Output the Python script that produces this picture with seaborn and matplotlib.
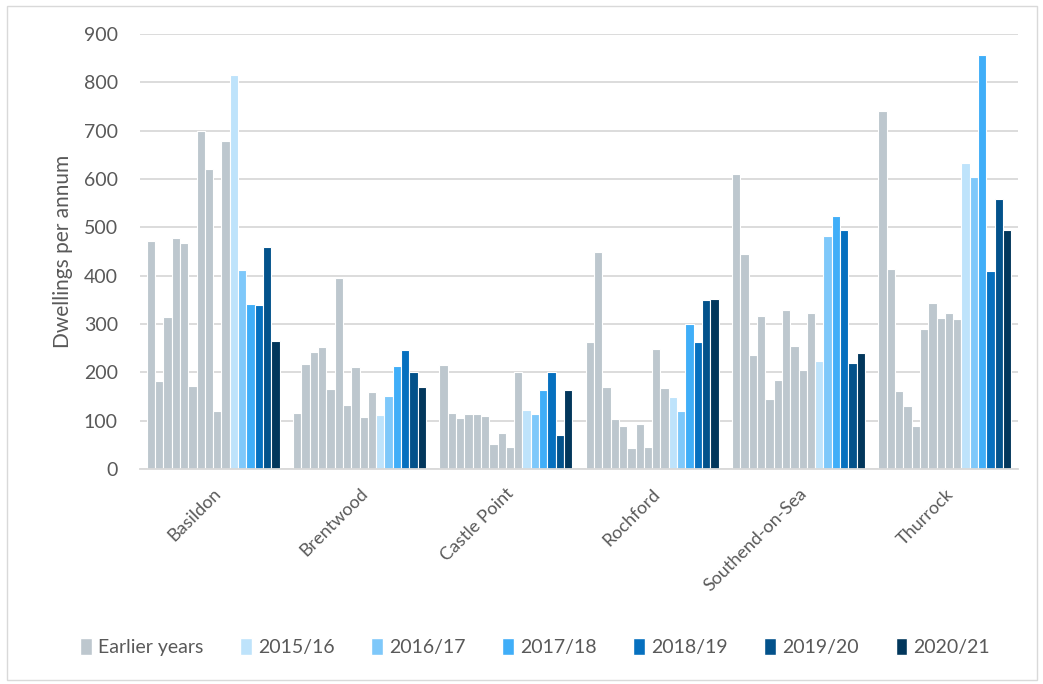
import pandas as pd
import matplotlib
matplotlib.use("Agg")
import matplotlib.pyplot as plt
from matplotlib.patches import Patch, Rectangle
import seaborn as sns

# --------------------------------------------------
# Data
# --------------------------------------------------
districts = ["Basildon", "Brentwood", "Castle Point", "Rochford",
             "Southend-on-Sea", "Thurrock"]

# ten earlier years per district
earlier_basildon = [472, 183, 314, 478, 468, 171, 700, 621, 119, 678]
earlier_brentwood = [116, 218, 242, 252, 166, 395, 132, 212, 108, 160]
earlier_castle_point = [216, 115, 105, 114, 114, 110, 51, 75, 45, 201]
earlier_rochford = [263, 450, 170, 103, 88, 43, 94, 45, 249, 168]
earlier_southend = [611, 445, 235, 316, 145, 185, 330, 255, 205, 323]
earlier_thurrock = [740, 414, 162, 130, 89, 289, 343, 312, 323, 310]

y2015_16 = [816, 112, 123, 149, 223, 634]
y2016_17 = [412, 151, 114, 119, 482, 604]
y2017_18 = [341, 214, 163, 300, 523, 856]
y2018_19 = [339, 247, 200, 263, 494, 410]
y2019_20 = [459, 201, 71, 349, 219, 559]
y2020_21 = [265, 169, 163, 351, 239, 494]

years = ["2015/16", "2016/17", "2017/18", "2018/19", "2019/20", "2020/21"]
year_colors = ["#BEE3FB", "#7EC8FA", "#40AEF8", "#0670BF", "#03528B", "#02375C"]
grey = "#BDC7CE"

# --------------------------------------------------
# Build long table
# --------------------------------------------------
earlier = [earlier_basildon, earlier_brentwood, earlier_castle_point,
           earlier_rochford, earlier_southend, earlier_thurrock]
yearly = [y2015_16, y2016_17, y2017_18, y2018_19, y2019_20, y2020_21]

rows = []
for i, d in enumerate(districts):
    for j, v in enumerate(earlier[i]):
        rows.append({"district": d, "series": f"Earlier {j + 1}", "value": v})
    for y, vals in zip(years, yearly):
        rows.append({"district": d, "series": y, "value": vals[i]})
df = pd.DataFrame(rows)

hue_order = [f"Earlier {j + 1}" for j in range(10)] + years
palette = {s: grey for s in hue_order[:10]}
palette.update(dict(zip(years, year_colors)))

# --------------------------------------------------
# Plot
# --------------------------------------------------
sns.set_style("white")
plt.rcParams["font.family"] = ["Lato", "DejaVu Sans"]
text_color = "#595959"

fig = plt.figure(figsize=(10.43, 6.84), dpi=100)
ax = fig.add_axes([140 / 1043, 215 / 684, 878 / 1043, 435 / 684])

sns.barplot(data=df, x="district", y="value", hue="series",
            hue_order=hue_order, order=districts, palette=palette,
            width=0.91, saturation=1, edgecolor="white", linewidth=0.8,
            legend=False, ax=ax)

ax.set_ylim(0, 900)
ax.set_yticks(range(0, 901, 100))
ax.yaxis.grid(True, color="#D9D9D9", linewidth=1.3)
ax.set_axisbelow(True)
for s in ["top", "right", "left"]:
    ax.spines[s].set_visible(False)
ax.spines["bottom"].set_color("#D9D9D9")
ax.spines["bottom"].set_linewidth(1.3)
ax.tick_params(axis="both", length=0, colors=text_color)
ax.tick_params(axis="y", labelsize=14, pad=16)
ax.tick_params(axis="x", labelsize=13, pad=12)
plt.setp(ax.get_xticklabels(), rotation=45, ha="right", rotation_mode="anchor")

ax.set_xlabel("")
ax.set_ylabel("Dwellings per annum", fontsize=15, color=text_color, labelpad=8)

handles = [Patch(facecolor=grey, label="Earlier years")]
handles += [Patch(facecolor=c, label=y) for y, c in zip(years, year_colors)]
leg = fig.legend(handles=handles, loc="center", bbox_to_anchor=(0.513, 0.054),
                 ncol=7, frameon=False, fontsize=14, handlelength=0.6,
                 handleheight=1.0, handletextpad=0.3, columnspacing=1.9)
for t in leg.get_texts():
    t.set_color(text_color)

fig.patches.append(Rectangle((7 / 1043, 4 / 684), 1030 / 1043, 674 / 684,
                             transform=fig.transFigure, fill=False,
                             edgecolor="#D9D9D9", linewidth=1))

fig.savefig("out.png", dpi=100)
